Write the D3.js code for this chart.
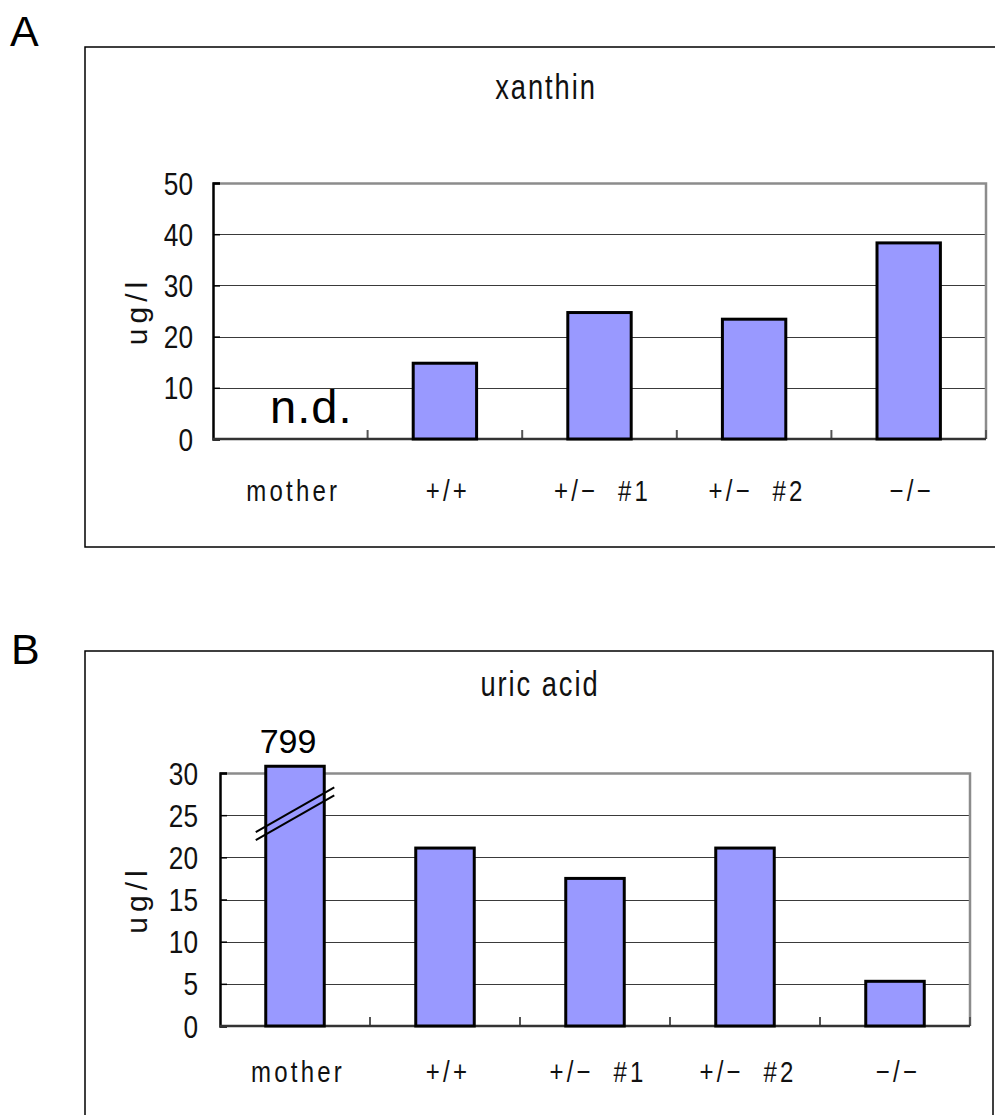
<!DOCTYPE html>
<html>
<head>
<meta charset="utf-8">
<script src="https://cdn.jsdelivr.net/npm/d3@7"></script>
<style>
  body { margin: 0; background: #fff; }
  svg text { white-space: pre; font-family: "Liberation Sans", Arial, sans-serif; }
</style>
</head>
<body>
<div id="chart"></div>
<script>
// chart data
var categories = ["mother", "+/+", "+/\u2212  #1", "+/\u2212  #2", "\u2212/\u2212"];
var xanthinValues = [null, 14.8, 24.7, 23.4, 38.3];   // mother not detected
var uricValues = [799, 21.1, 17.5, 21.1, 5.3];         // mother bar is broken
var xanthinTicks = [0, 10, 20, 30, 40, 50];
var uricTicks = [0, 5, 10, 15, 20, 25, 30];

var svgWidth = 995;
var svgHeight = 1115;

var svg = d3.select("#chart")
    .append("svg")
    .attr("width", svgWidth)
    .attr("height", svgHeight);

var barFill = "#9999ff";

// the original uses a tall, narrow font; squeeze Liberation Sans horizontally
function narrowText(sel, sx) {
    return sel.attr("transform", function (d) {
        var tx = +d3.select(this).attr("data-x");
        var ty = +d3.select(this).attr("data-y");
        return `translate(${tx}, ${ty}) scale(${sx}, 1)`;
    });
}

// draws one panel: outer box, plot frame, grid, bars, labels
function drawPanel(opt) {
    var g = svg.append("g");

    // panel letter
    g.append("text")
        .attr("x", opt.letterX)
        .attr("y", opt.letterY)
        .attr("font-size", "43px")
        .text(opt.letter);

    // outer box
    g.append("rect")
        .attr("x", opt.box.x)
        .attr("y", opt.box.y)
        .attr("width", opt.box.w)
        .attr("height", opt.box.h)
        .attr("fill", "none")
        .attr("stroke", "#000")
        .attr("stroke-width", 1.5);

    // title
    g.append("text")
        .attr("data-x", opt.titleX)
        .attr("data-y", opt.titleY)
        .attr("text-anchor", "middle")
        .attr("font-size", "35px")
        .attr("letter-spacing", "2.5px")
        .attr("fill", "#111")
        .text(opt.title)
        .call(narrowText, 0.78);

    var p = opt.plot;
    var plot = g.append("g")
        .attr("transform", `translate(${p.x}, ${p.y})`);

    var x = d3.scaleBand()
        .domain(categories)
        .range([0, p.w])
        .padding(0);

    var yMax = opt.ticks[opt.ticks.length - 1];
    var y = d3.scaleLinear()
        .domain([0, yMax])
        .range([p.h, 0]);

    // gridlines
    plot.append("g")
        .selectAll("line")
        .data(opt.ticks.filter(t => t > 0 && t < yMax))
        .enter()
        .append("line")
        .attr("x1", 0)
        .attr("x2", p.w)
        .attr("y1", d => Math.round(y(d)) + 0.5)
        .attr("y2", d => Math.round(y(d)) + 0.5)
        .attr("stroke", "#3a3a3a")
        .attr("stroke-width", 1.2);

    // frame: top and right gray
    plot.append("path")
        .attr("d", `M0,0.5 H${p.w} V${p.h}`)
        .attr("fill", "none")
        .attr("stroke", "#8c8c8c")
        .attr("stroke-width", 2.5);

    // y axis (ticks pointing inward, labels placed by hand)
    var leftAxis = d3.axisLeft(y)
        .tickValues(opt.ticks)
        .tickSize(-7)
        .tickFormat("");
    var yAxis = plot.append("g").call(leftAxis);
    yAxis.select(".domain").attr("stroke", "#000").attr("stroke-width", 2.5);
    yAxis.selectAll(".tick line").attr("stroke", "#000").attr("stroke-width", 1.5);

    // y tick labels
    plot.append("g")
        .selectAll("text")
        .data(opt.ticks)
        .enter()
        .append("text")
        .attr("data-x", -opt.tickGap)
        .attr("data-y", d => y(d))
        .attr("dy", "0.36em")
        .attr("text-anchor", "end")
        .attr("font-size", "32px")
        .attr("fill", "#111")
        .text(d => d)
        .call(narrowText, 0.82);

    // x axis: ticks at category boundaries, pointing up
    var bounds = categories.slice(1).map(c => x(c)).concat([p.w]);
    plot.append("g")
        .selectAll("line")
        .data(bounds)
        .enter()
        .append("line")
        .attr("x1", d => d)
        .attr("x2", d => d)
        .attr("y1", p.h)
        .attr("y2", p.h - 9)
        .attr("stroke", "#555")
        .attr("stroke-width", 2);

    plot.append("line")
        .attr("x1", 0)
        .attr("x2", p.w)
        .attr("y1", p.h)
        .attr("y2", p.h)
        .attr("stroke", "#333")
        .attr("stroke-width", 2.5);

    // bars
    var barW = x.bandwidth() * opt.barRatio;
    var clampTop = yMax + opt.overshoot;
    var barData = categories.map((c, i) => ({ cat: c, value: opt.values[i] }))
        .filter(d => d.value !== null);

    plot.append("g")
        .selectAll("rect")
        .data(barData)
        .enter()
        .append("rect")
        .attr("x", d => x(d.cat) + (x.bandwidth() - barW) / 2)
        .attr("y", d => y(Math.min(d.value, clampTop)))
        .attr("width", barW)
        .attr("height", d => p.h - y(Math.min(d.value, clampTop)))
        .attr("fill", barFill)
        .attr("stroke", "#000")
        .attr("stroke-width", 3);

    // category labels
    plot.append("g")
        .selectAll("text")
        .data(categories)
        .enter()
        .append("text")
        .attr("data-x", d => x(d) + x.bandwidth() / 2 + 3)
        .attr("data-y", p.h + opt.labelGap)
        .attr("text-anchor", "middle")
        .attr("font-size", "30px")
        .attr("letter-spacing", "4px")
        .attr("fill", "#111")
        .text(d => d)
        .call(narrowText, 0.8);

    return { plot: plot, x: x, y: y, barW: barW };
}

// Panel A - xanthin
var panelA = drawPanel({
    letter: "A", letterX: 10, letterY: 46,
    box: { x: 85, y: 47, w: 940, h: 500 },
    title: "xanthin", titleX: 546, titleY: 99,
    plot: { x: 213, y: 183, w: 773, h: 256 },
    ticks: xanthinTicks,
    values: xanthinValues,
    tickGap: 20,
    barRatio: 0.41,
    overshoot: 0,
    labelGap: 62
});

// n.d. for mother
panelA.plot.append("text")
    .attr("x", panelA.x("mother") + panelA.x.bandwidth() / 2 + 21)
    .attr("y", panelA.y(0) - 16)
    .attr("text-anchor", "middle")
    .attr("font-size", "47px")
    .attr("letter-spacing", "1px")
    .text("n.d.");

// Panel B - uric acid
var panelB = drawPanel({
    letter: "B", letterX: 11, letterY: 664,
    box: { x: 85, y: 651, w: 908, h: 500 },
    title: "uric acid", titleX: 540, titleY: 696,
    plot: { x: 220, y: 773, w: 750, h: 253 },
    ticks: uricTicks,
    values: uricValues,
    tickGap: 22,
    barRatio: 0.39,
    overshoot: 0.8,
    labelGap: 56
});

// real value above the broken mother bar
var motherCx = panelB.x("mother") + panelB.x.bandwidth() / 2;
panelB.plot.append("text")
    .attr("x", motherCx - 7)
    .attr("y", panelB.y(30) - 20)
    .attr("text-anchor", "middle")
    .attr("font-size", "34px")
    .text(uricValues[0]);

// break marks: two parallel slanted lines across the bar
var half = panelB.barW / 2 + 10;
[0, 8].forEach(function (off) {
    panelB.plot.append("line")
        .attr("x1", motherCx - half)
        .attr("y1", panelB.y(23) + off)
        .attr("x2", motherCx + half)
        .attr("y2", panelB.y(28.3) + off)
        .attr("stroke", "#000")
        .attr("stroke-width", 2);
});

// axis titles
[panelA, panelB].forEach(function (pn) {
    var h = pn.y(0);
    pn.plot.append("text")
        .attr("transform", `translate(${-66 - (pn === panelB ? 7 : 0)}, ${h / 2}) rotate(-90)`)
        .attr("text-anchor", "middle")
        .attr("font-size", "30px")
        .attr("letter-spacing", "5px")
        .attr("fill", "#111")
        .text("ug/l");
});
</script>
</body>
</html>
